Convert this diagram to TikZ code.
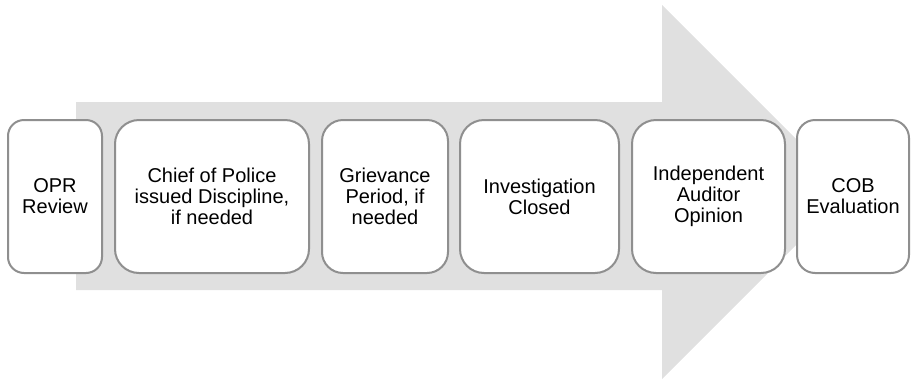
\documentclass[tikz,border=0pt]{standalone}
\usepackage{fontspec}
\setmainfont{Liberation Sans}
\definecolor{arrowgray}{HTML}{E0E0E0}
\definecolor{boxline}{HTML}{8F8F8F}
\begin{document}
\begin{tikzpicture}[x=1pt,y=-1pt,
  stepbox/.style={draw=boxline, line width=2pt, fill=white, align=center,
    inner sep=0pt, font=\fontsize{20}{21}\selectfont, text=black}]
\useasboundingbox (0,0) rectangle (911,381);
\fill[arrowgray] (76,102) -- (662,102) -- (662,5) -- (849,192) -- (662,379) -- (662,290) -- (76,290) -- cycle;
\node[stepbox, minimum width=94pt, minimum height=153pt, rounded corners=16pt] (b1) at (55,196.5) {OPR\\Review};
\node[stepbox, minimum width=194pt, minimum height=153pt, rounded corners=24pt] (b2) at (212,196.5) {Chief of Police\\issued Discipline,\\if needed};
\node[stepbox, minimum width=126pt, minimum height=153pt, rounded corners=21pt] (b3) at (385,196.5) {Grievance\\Period, if\\needed};
\node[stepbox, minimum width=159pt, minimum height=153pt, rounded corners=24pt] (b4) at (539.5,196.5) {Investigation\\Closed};
\node[stepbox, minimum width=153pt, minimum height=153pt, rounded corners=24pt] (b5) at (708.5,196.5) {Independent\\Auditor\\Opinion};
\node[stepbox, minimum width=112pt, minimum height=153pt, rounded corners=18pt] (b6) at (853,196.5) {COB\\Evaluation};
\end{tikzpicture}
\end{document}
